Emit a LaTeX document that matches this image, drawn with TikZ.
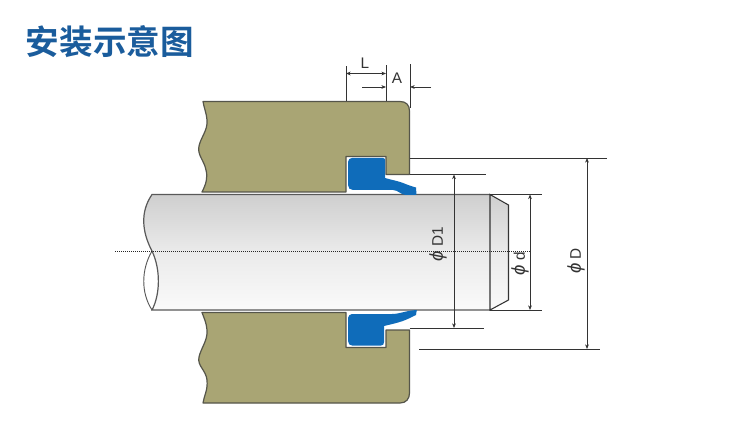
\documentclass[tikz,border=0pt]{standalone}
\usepackage{fontspec}
\setmainfont{Liberation Sans}
\newfontfamily\cjk{Noto Sans CJK SC}[BoldFont={Noto Sans CJK SC Bold}]
\usetikzlibrary{arrows.meta}
\definecolor{housing}{HTML}{A9A574}
\definecolor{edgecol}{HTML}{55554A}
\definecolor{sealblue}{HTML}{0F6CBA}
\definecolor{titleblue}{HTML}{1A5C9C}
\definecolor{dimcol}{HTML}{333333}
\newcommand{\phisym}{{\fontsize{14pt}{14pt}\selectfont\itshape ϕ}}
\tikzset{
  x=0.75pt,y=-0.75pt,
  body/.style={fill=housing,draw=edgecol,line width=0.9pt,line join=round},
  seal/.style={fill=sealblue,draw=none},
  thin line/.style={draw=dimcol,line width=0.7pt},
  dimline/.style={thin line,{Stealth[length=3.5pt,width=2.8pt]}-{Stealth[length=3.5pt,width=2.8pt]}},
  tiplr/.style={thin line,-{Stealth[length=3.5pt,width=2.8pt]}},
  lbl/.style={font=\fontsize{11.5pt}{12pt}\selectfont,text=dimcol,inner sep=0pt},
  lblrot/.style={lbl,rotate=90}
}
\begin{document}
\begin{tikzpicture}
\useasboundingbox (0,0) rectangle (750,424);
\fill[white] (0,0) rectangle (750,424);
% title
\node[anchor=center,inner sep=0pt,text=titleblue,font=\cjk\bfseries\fontsize{25.2pt}{28pt}\selectfont] (title) at (110,42) {安装示意图};
% shaft
\shade[top color=black!19,bottom color=black!2,middle color=black!8]
  (152,194.5) -- (490,194.5) -- (508.5,205) -- (508.5,300) -- (490,310) -- (152,310)
  .. controls (160,295) and (161,270) .. (152,251)
  .. controls (142,232) and (140,212) .. (152,194.5) -- cycle;
\draw[line width=0.9pt,draw=black!65] (490,194.5) -- (152,194.5)
  .. controls (140,212) and (142,232) .. (152,251)
  .. controls (161,270) and (160,295) .. (152,310) -- (490,310);
\draw[line width=0.7pt,draw=black!65] (152,251) .. controls (141,270) and (141,293) .. (152,310);
\draw[line width=0.8pt,draw=dimcol] (490,194.5) -- (508.5,205) -- (508.5,300) -- (490,310) -- cycle;
% housings
\draw[body] (203,101.5) -- (400,101.5) .. controls (406,101.5) and (409.5,105) .. (409.5,111)
  -- (409.5,174.5) -- (386,174.5) -- (386,156.5) -- (346,156.5) -- (346,192) -- (202,192)
  .. controls (206,184) and (208,178) .. (206,170)
  .. controls (204,160) and (197,155) .. (199,146)
  .. controls (201,137) and (208,130) .. (207,120)
  .. controls (206.5,113) and (204,108) .. (203,101.5) -- cycle;
\draw[body] (202,312.5) -- (346,312.5) -- (346,347.5) -- (386,347.5) -- (386,330) -- (409.5,330)
  -- (409.5,393) .. controls (409.5,399) and (406,403) .. (400,403) -- (203,403)
  .. controls (204,396) and (208,390) .. (207,380)
  .. controls (206,370) and (197,366) .. (199,357)
  .. controls (201,348) and (208,340) .. (207,330)
  .. controls (206.5,323) and (204,318) .. (202,312.5) -- cycle;
% seals
\fill[seal] (352,158) -- (383,158) .. controls (384.5,158) and (385,159) .. (385,160)
  -- (385,178) .. controls (392,180) and (398,181) .. (403,183)
  .. controls (408,185) and (412,186.5) .. (416,187.5) -- (416.5,195) -- (406,195)
  .. controls (401,195) and (398,190) .. (393,190) -- (353,190)
  .. controls (350,190) and (348,188) .. (348,185) -- (348,162)
  .. controls (348,159.5) and (350,158) .. (352,158) -- cycle;
\fill[seal] (352,314) -- (392,314) .. controls (400,314) and (406,310.5) .. (416.8,310)
  -- (416,315) .. controls (410,318) and (404,321) .. (398,322.5)
  .. controls (393,324) and (388,325) .. (384,326)
  -- (384,342) .. controls (384,344.5) and (383,345.5) .. (381,345.5) -- (352,345.5)
  .. controls (350,345.5) and (348,344) .. (348,341) -- (348,318)
  .. controls (348,316) and (350,314) .. (352,314) -- cycle;
% reference points
\coordinate (DtopL) at (409.5,158);   \coordinate (DtopR) at (607,158);
\coordinate (DbotL) at (419,349);     \coordinate (DbotR) at (600,349);
\coordinate (D1topL) at (409.5,174.5);\coordinate (D1topR) at (486,174.5);
\coordinate (D1botL) at (409.5,328);  \coordinate (D1botR) at (484,328);
\coordinate (dtopL) at (490,194.5);   \coordinate (dtopR) at (542,194.5);
\coordinate (dbotL) at (490,310);     \coordinate (dbotR) at (542,310);
\coordinate (DT) at (587,158);  \coordinate (DB) at (587,349);
\coordinate (D1T) at (454,174.5);\coordinate (D1B) at (454,328);
\coordinate (dT) at (530,194.5); \coordinate (dB) at (530,310);
\coordinate (clL) at (115,251);  \coordinate (clR) at (530,251);
\coordinate (L1b) at (346,101.5);\coordinate (L1t) at (346,66);
\coordinate (L2b) at (386,101.5);\coordinate (L2t) at (386,65);
\coordinate (A2b) at (410,108);  \coordinate (A2t) at (410,64);
\coordinate (La) at (346,73.5);  \coordinate (Lb) at (386,73.5);
\coordinate (AL) at (362,87);    \coordinate (AR) at (431,87);
\coordinate (Aa) at (386,87);    \coordinate (Ab) at (410,87);
% extension lines
\draw[thin line] (DtopL) -- (DtopR);
\draw[thin line] (DbotL) -- (DbotR);
\draw[thin line] (D1topL) -- (D1topR);
\draw[thin line] (D1botL) -- (D1botR);
\draw[thin line] (dtopL) -- (dtopR);
\draw[thin line] (dbotL) -- (dbotR);
\draw[thin line] (L1b) -- (L1t);
\draw[thin line] (L2b) -- (L2t);
\draw[thin line] (A2b) -- (A2t);
% centre line
\draw[line width=0.5pt,draw=black!85,densely dotted] (clL) -- (clR);
% dimensions
\draw[dimline] (DT) -- (DB);
\draw[dimline] (D1T) -- (D1B);
\draw[dimline] (dT) -- (dB);
\draw[dimline] (La) -- (Lb);
\draw[tiplr] (AL) -- (Aa);
\draw[tiplr] (AR) -- (Ab);
% labels
\node[lbl] (labL) at (365,63) {L};
\node[lbl] (labA) at (397,78) {A};
\node[lblrot] (labD1) at (438,244) {\phisym\ D1};
\node[lblrot] (labd) at (520,264) {\phisym\ d};
\node[lblrot] (labD) at (576,261) {\phisym\ D};
\end{tikzpicture}
\end{document}
